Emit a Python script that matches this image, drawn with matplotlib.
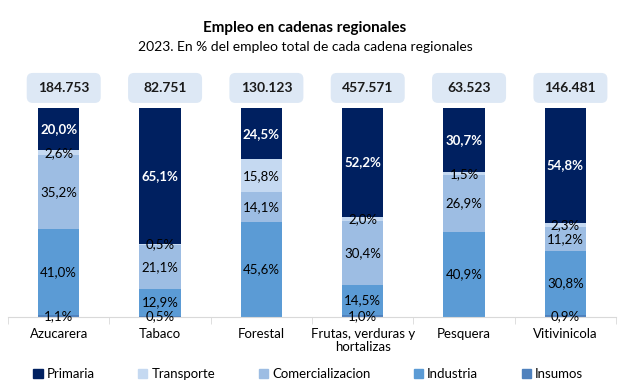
import matplotlib

matplotlib.use("Agg")
import matplotlib.pyplot as plt
import matplotlib.transforms as mtransforms
from matplotlib.patches import FancyBboxPatch, Patch
import numpy as np

plt.rcParams["font.family"] = ["Lato", "DejaVu Sans"]

cadenas = ["Azucarera", "Tabaco", "Forestal", "Frutas, verduras y\nhortalizas",
           "Pesquera", "Vitivinicola"]
totales = ["184.753", "82.751", "130.123", "457.571", "63.523", "146.481"]

# stacked bottom -> top
insumos = [1.1, 0.5, 0.0, 1.0, 0.0, 0.9]
industria = [41.0, 12.9, 45.6, 14.5, 40.9, 30.8]
comercializacion = [35.2, 21.1, 14.1, 30.4, 26.9, 11.2]
transporte = [2.6, 0.5, 15.8, 2.0, 1.5, 2.3]
primaria = [20.0, 65.1, 24.5, 52.2, 30.7, 54.8]

series = [
    ("Insumos", insumos, "#4f81bd", "black", "normal"),
    ("Industria", industria, "#5b9bd5", "black", "normal"),
    ("Comercializacion", comercializacion, "#9dbde3", "black", "normal"),
    ("Transporte", transporte, "#c5d9f1", "black", "normal"),
    ("Primaria", primaria, "#002060", "white", "bold"),
]

fig = plt.figure(figsize=(6.29, 3.92), dpi=100)
ax = fig.add_axes([8 / 629, 1 - 317 / 392, 608 / 629, 209 / 392])

x = np.arange(len(cadenas))
bottom = np.zeros(len(cadenas))
for name, vals, color, tcol, tw in series:
    vals = np.array(vals)
    ax.bar(x, vals, 0.41, bottom=bottom, color=color, label=name)
    for xi, b, v in zip(x, bottom, vals):
        if v > 0:
            ax.text(xi, b + v / 2, f"{v:.1f}%".replace(".", ","), ha="center",
                    va="center", fontsize=9.5, color=tcol, fontweight=tw)
    bottom += vals

ax.set_xlim(-0.5, len(cadenas) - 0.5)
ax.set_ylim(0, 100)
ax.set_yticks([])
for s in ["left", "right", "top"]:
    ax.spines[s].set_visible(False)
ax.spines["bottom"].set_color("#d9d9d9")
ax.set_xticks(x, cadenas, fontsize=9.5, linespacing=1.1)
ax.tick_params(axis="x", length=0, pad=8)
ax.set_xticks(np.arange(-0.5, len(cadenas)), minor=True)
ax.tick_params(axis="x", which="minor", length=5, color="#d9d9d9")

# total-employment boxes above each bar
for xi, t in zip(x, totales):
    tr = fig.dpi_scale_trans + mtransforms.ScaledTranslation(
        xi + 0.05, 1.096, ax.get_xaxis_transform())
    box = FancyBboxPatch((-0.37, -0.15), 0.74, 0.30,
                         boxstyle="round,pad=0,rounding_size=0.06",
                         transform=tr, facecolor="#dde8f5", edgecolor="none",
                         clip_on=False)
    ax.add_artist(box)
    ax.text(0, 0, t, transform=tr, ha="center", va="center", fontsize=10,
            fontweight="bold", color="#1a1a1a")

fig.text(0.485, 1 - 28 / 392, "Empleo en cadenas regionales", ha="center",
         va="center", fontsize=11, fontweight="bold")
fig.text(0.485, 1 - 47 / 392, "2023. En % del empleo total de cada cadena regionales",
         ha="center", va="center", fontsize=10)

order = ["Primaria", "Transporte", "Comercializacion", "Industria", "Insumos"]
cmap = {s[0]: s[2] for s in series}
handles = [Patch(color=cmap[n], label=n) for n in order]
fig.legend(handles=handles, loc="center", bbox_to_anchor=(0.49, 1 - 374 / 392),
           ncol=5, frameon=False, fontsize=9.5, handlelength=0.7,
           handleheight=0.7, handletextpad=0.3, columnspacing=3.3)

fig.savefig("out.png", dpi=100)
